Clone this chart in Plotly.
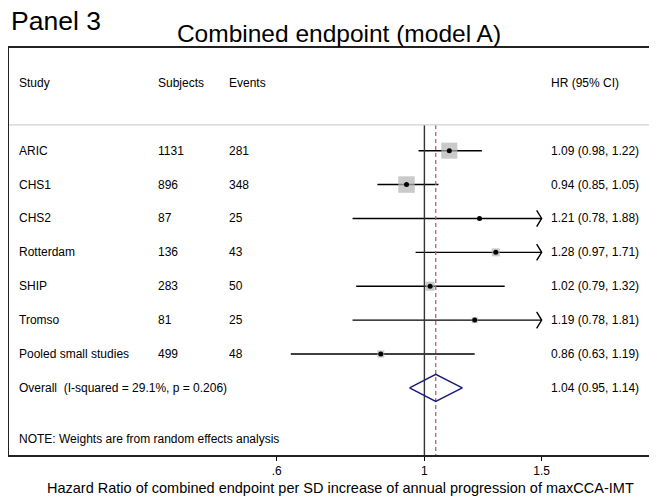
import math
import plotly.graph_objects as go

# study-level data
studies = ["ARIC", "CHS1", "CHS2", "Rotterdam", "SHIP", "Tromso", "Pooled small studies"]
subjects = [1131, 896, 87, 136, 283, 81, 499]
events = [281, 348, 25, 43, 50, 25, 48]
hr = [1.09, 0.94, 1.21, 1.28, 1.02, 1.19, 0.86]
lo = [0.98, 0.85, 0.78, 0.97, 0.79, 0.78, 0.63]
hi = [1.22, 1.05, 1.88, 1.71, 1.32, 1.81, 1.19]
weights = [33.1, 35.1, 2.1, 8.3, 10.5, 4.6, 6.3]  # % weight (random effects)

# pooled estimate
overall_label = "Overall  (I-squared = 29.1%, p = 0.206)"
overall_hr, overall_lo, overall_hi = 1.04, 0.95, 1.14

tick_vals = [0.6, 1, 1.5]
tick_text = [".6", "1", "1.5"]

FONT = "Liberation Sans, Arial, sans-serif"
# the page body adds an 8px margin, so the figure is drawn 8px in from the corner
OFF = 8
W, H = 657 - OFF, 497 - OFF

x_max = max(tick_vals)
rows = list(range(1, len(studies) + 1))
overall_row = len(studies) + 1
header_row = -1
sep_row = 0.24
note_row = overall_row + 1.5
y_top, y_bottom = -2.03, 9.98

fig = go.Figure()

# CI lines (clipped at the last tick)
xs, ys = [], []
for r, a, b in zip(rows, lo, hi):
    xs += [a, min(b, x_max), None]
    ys += [r, r, None]
fig.add_trace(go.Scatter(x=xs, y=ys, mode="lines", line=dict(color="black", width=1.4),
                         hoverinfo="skip", showlegend=False))

# open arrowheads for clipped CIs
ax, ay = [], []
back = 10 ** (-5 / 666)
for r, b in zip(rows, hi):
    if b > x_max:
        ax += [x_max * back, x_max, x_max * back, None]
        ay += [r - 0.24, r, r + 0.24, None]
fig.add_trace(go.Scatter(x=ax, y=ay, mode="lines", line=dict(color="black", width=1.4),
                         hoverinfo="skip", showlegend=False))

# weight boxes
wmax = max(weights)
sizes = [16.5 * math.sqrt(w / wmax) for w in weights]
fig.add_trace(go.Scatter(x=hr, y=rows, mode="markers",
                         marker=dict(symbol="square", size=sizes, color="#b4b4b4", line=dict(width=0)),
                         hoverinfo="skip", showlegend=False))
# point estimates
fig.add_trace(go.Scatter(x=hr, y=rows, mode="markers",
                         marker=dict(symbol="circle", size=5, color="black"),
                         hoverinfo="skip", showlegend=False))

# reference lines
fig.add_trace(go.Scatter(x=[1, 1], y=[sep_row, y_bottom], mode="lines",
                         line=dict(color="#333333", width=1.4), hoverinfo="skip", showlegend=False))
fig.add_trace(go.Scatter(x=[overall_hr, overall_hr], y=[sep_row, y_bottom], mode="lines",
                         line=dict(color="#b5626c", width=1.3, dash="4px,3px"),
                         hoverinfo="skip", showlegend=False))

# overall diamond
h = 0.4
fig.add_trace(go.Scatter(x=[overall_lo, overall_hr, overall_hi, overall_hr, overall_lo],
                         y=[overall_row, overall_row - h, overall_row, overall_row + h, overall_row],
                         mode="lines", line=dict(color="#1a1a7a", width=1.5),
                         hoverinfo="skip", showlegend=False))

# text columns
def px(p):
    return (p - 9) / 648

def py(q):
    return (455 - q) / 407

col_study, col_subj, col_events, col_hr = px(17), px(156), px(227), px(549)
txt = dict(size=12, color="black", family=FONT)
ann = []
def add(x, y, s):
    ann.append(dict(x=x, y=y, xref="paper", yref="y", text=s, showarrow=False,
                    xanchor="left", yanchor="middle", font=txt))

add(col_study, header_row, "Study")
add(col_subj, header_row, "Subjects")
add(col_events, header_row, "Events")
add(col_hr, header_row, "HR (95% CI)")
for r, s, n, e, m, a, b in zip(rows, studies, subjects, events, hr, lo, hi):
    add(col_study, r, s)
    add(col_subj, r, str(n))
    add(col_events, r, str(e))
    add(col_hr, r, f"{m:.2f} ({a:.2f}, {b:.2f})")
add(col_study, overall_row, overall_label)
add(col_hr, overall_row, f"{overall_hr:.2f} ({overall_lo:.2f}, {overall_hi:.2f})")
add(col_study, note_row, "NOTE: Weights are from random effects analysis")

ann.append(dict(x=0, y=py(21), xref="paper", yref="paper", text="Panel 3",
                showarrow=False, xanchor="left", yanchor="middle",
                font=dict(size=26.5, color="black", family=FONT)))
ann.append(dict(x=px(340), y=py(488), xref="paper", yref="paper",
                text="Hazard Ratio of combined endpoint per SD increase of annual progression of maxCCA-IMT",
                showarrow=False, xanchor="center", yanchor="middle",
                font=dict(size=14.5, color="black", family=FONT)))

fig.update_layout(
    width=W, height=H,
    margin=dict(l=9 - OFF, r=0, t=48 - OFF, b=497 - 455, autoexpand=False),
    paper_bgcolor="white", plot_bgcolor="white",
    title=dict(text="Combined endpoint (model A)", x=(339 - OFF) / W, xanchor="center",
               y=1 - (33 - OFF) / H, yanchor="middle", font=dict(size=24.5, color="black", family=FONT)),
    annotations=ann,
    shapes=[dict(type="line", xref="paper", yref="y", x0=0, x1=1, y0=sep_row, y1=sep_row,
                 line=dict(color="#d2d2d2", width=1.2))],
    xaxis=dict(type="log", range=[-0.6238, 0.3493], tickvals=tick_vals, ticktext=tick_text,
               ticks="outside", ticklen=4, tickcolor="black", showgrid=False, zeroline=False,
               showline=True, mirror=True, linecolor="#222222", linewidth=1.5, automargin=False,
               tickfont=dict(size=12, color="black", family=FONT)),
    yaxis=dict(range=[y_bottom, y_top], showticklabels=False, showgrid=False, zeroline=False,
               showline=True, linecolor="#222222", linewidth=1.5, ticks="", automargin=False),
)

fig.write_html("out.html")
